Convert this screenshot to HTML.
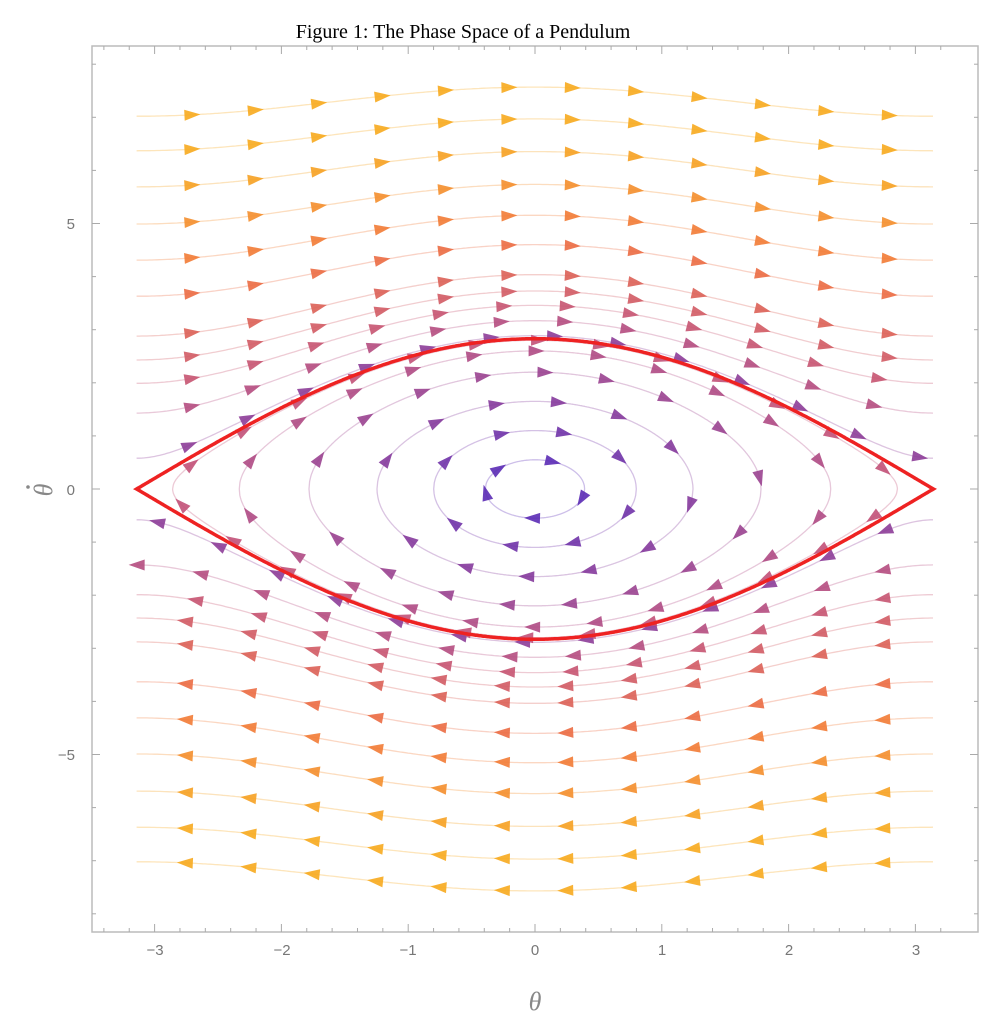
<!DOCTYPE html>
<html><head><meta charset="utf-8"><style>
body{margin:0;background:#fff;width:1006px;height:1024px;overflow:hidden}
</style></head><body>
<svg id="s" width="1006" height="1024" xmlns="http://www.w3.org/2000/svg">
<text x="463" y="38" font-family="Liberation Serif, serif" font-size="20" text-anchor="middle">Figure 1: The Phase Space of a Pendulum</text>
<rect x="92" y="46" width="886" height="886" fill="none" stroke="#bbb" stroke-width="1.5"/>
<g id="g"></g>
<g font-family="Liberation Sans, sans-serif" font-size="15" fill="#777" text-anchor="middle">
<text x="155" y="955">−3</text><text x="282" y="955">−2</text><text x="408" y="955">−1</text><text x="535" y="955">0</text><text x="662" y="955">1</text><text x="789" y="955">2</text><text x="916" y="955">3</text>
<text x="75" y="229" text-anchor="end">5</text><text x="75" y="495" text-anchor="end">0</text><text x="75" y="760" text-anchor="end">−5</text>
</g>
<text x="535" y="1010" font-family="Liberation Serif, serif" font-style="italic" font-size="26" fill="#888" text-anchor="middle">θ</text>
<g transform="rotate(-90 44 490)"><text x="44" y="498" font-family="Liberation Serif, serif" font-style="italic" font-size="26" fill="#888" text-anchor="middle">θ</text><circle cx="47" cy="474" r="1.8" fill="#888"/></g>
</svg>
<script>
const g=document.getElementById('g');
const X=t=>535+t*126.8, Y=v=>489-v*53.1;
let h='';
for(let t=-3.4;t<=3.4;t+=0.2){const x=X(t),maj=Math.abs(t-Math.round(t))<0.01;const L=maj?8:4;
h+=`<line x1="${x}" y1="932" x2="${x}" y2="${932-L}" stroke="#aaa"/><line x1="${x}" y1="46" x2="${x}" y2="${46+L}" stroke="#aaa"/>`;}
for(let v=-8;v<=8;v+=1){const y=Y(v);if(y<46||y>932)continue;const maj=v%5==0;const L=maj?8:4;
h+=`<line x1="92" y1="${y}" x2="${92+L}" y2="${y}" stroke="#aaa"/><line x1="978" y1="${y}" x2="${978-L}" y2="${y}" stroke="#aaa"/>`;}
function col(sp){const a=[[91,43,181],[192,80,122],[240,110,60],[247,170,30]];let f=Math.min(Math.max((sp-0.5)/6.5,0),1)*3;let i=Math.min(Math.floor(f),2),r=f-i;
const c=a[i].map((c,k)=>Math.round(c+(a[i+1][k]-c)*r));return `rgb(${c})`;}
function arrow(x,y,dx,dy,c){const l=Math.hypot(dx,dy);dx/=l;dy/=l;const L=16,W=5.5;
const p=[[x+dx*L/2,y+dy*L/2],[x-dx*L/2-dy*W,y-dy*L/2+dx*W],[x-dx*L/2+dy*W,y-dy*L/2-dx*W]];
return `<polygon points="${p.map(q=>q.join(',')).join(' ')}" fill="${c}" opacity="0.9"/>`;}
function curve(pts,c,spacing,start){let d='M'+pts.map(p=>p[0].toFixed(1)+','+p[1].toFixed(1)).join('L');
let s=`<path d="${d}" fill="none" stroke="${c}" stroke-width="1.3" opacity="0.3"/>`;
let acc=start;for(let i=1;i<pts.length;i++){const dx=pts[i][0]-pts[i-1][0],dy=pts[i][1]-pts[i-1][1];acc+=Math.hypot(dx,dy);
if(acc>=spacing){acc=0;s+=arrow(pts[i][0],pts[i][1],dx,dy,c);}}return s;}
const edges=[7.02,6.37,5.69,4.99,4.31,3.63,2.88,2.43,1.99,1.43,0.58];
edges.forEach((e,k)=>{[1,-1].forEach(sg=>{const E=e*e/2+2;let pts=[];
for(let t=-Math.PI;t<=Math.PI+1e-6;t+=0.02){const v=sg*Math.sqrt(2*(E+2*Math.cos(t)));pts.push([X(t),Y(v)]);}
if(sg<0)pts.reverse();
h+=curve(pts,col(e+1),63,sg>0?9:14);});});
[0.55,1.1,1.65,2.2,2.6,2.8].forEach((v0,k)=>{const E=v0*v0/2-2;const tm=Math.acos(Math.max(-1,-E/2));let pts=[];
for(let t=-tm;t<=tm;t+=0.005){pts.push([X(t),Y(Math.sqrt(Math.max(0,2*(E+2*Math.cos(t)))))]);}
for(let t=tm;t>=-tm;t-=0.005){pts.push([X(t),Y(-Math.sqrt(Math.max(0,2*(E+2*Math.cos(t)))))]);}
pts.push(pts[0]);h+=curve(pts,col(0.5+k*0.45),k==0?55:62,30);});
let sp=[];for(let t=-Math.PI;t<=Math.PI+1e-6;t+=0.01)sp.push([X(t),Y(2.83*Math.cos(t/2))]);
for(let t=Math.PI;t>=-Math.PI-1e-6;t-=0.01)sp.push([X(t),Y(-2.83*Math.cos(t/2))]);
h+=`<path d="M${sp.map(p=>p[0].toFixed(1)+','+p[1].toFixed(1)).join('L')}Z" fill="none" stroke="#ee2222" stroke-width="3.5"/>`;
g.innerHTML=h;
</script>
</body></html>
